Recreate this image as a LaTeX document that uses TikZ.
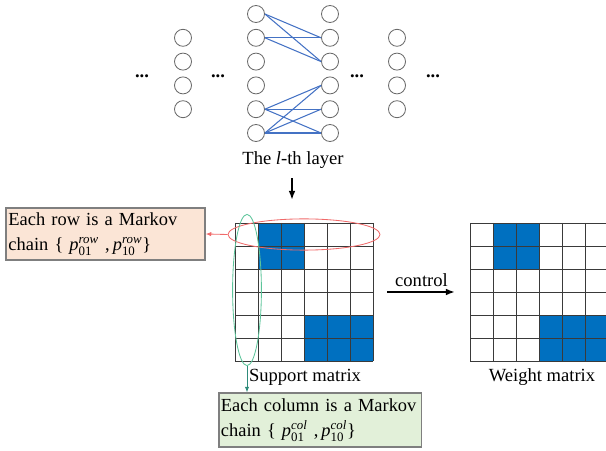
\documentclass[tikz,border=0pt]{standalone}
\usepackage{amsmath}
\usepackage{fontspec}
\setmainfont{Liberation Serif}
\usetikzlibrary{arrows.meta,shapes.geometric}
\definecolor{NeuronGray}{HTML}{6A6A6A}
\definecolor{LinkBlue}{HTML}{4472C4}
\definecolor{CellBlue}{HTML}{0070C0}
\definecolor{GridGray}{HTML}{3A3A3A}
\definecolor{BoxGray}{HTML}{7F7F7F}
\definecolor{RowFill}{HTML}{FBE5D6}
\definecolor{ColFill}{HTML}{E2F0D9}
\definecolor{RowRed}{HTML}{F06A6A}
\definecolor{ColGreen}{HTML}{5CC49A}
\definecolor{ColArrow}{HTML}{2E8B7A}
\newcommand{\MkText}{\fontsize{13.1}{17.6}\selectfont}
\newcommand{\LblText}{\fontsize{13.2}{15}\selectfont}
\newcommand{\MkProb}[2]{$\textit{p}_{\text{#1}}^{\textit{#2}}$}
% 6x6 block pattern, #1/#2 = top-left corner
\newcommand{\MatGrid}[2]{%
  \begin{scope}[shift={(#1,#2)}]
    \foreach \c/\r in {1/0,2/0,1/1,2/1,3/4,4/4,5/4,3/5,4/5,5/5}
      \fill[CellBlue] (\c*23,\r*23) rectangle ++(23,23);
    \foreach \k in {0,...,6} {
      \draw[gridline] (\k*23,0) -- (\k*23,138);
      \draw[gridline] (0,\k*23) -- (138,\k*23);
    }
  \end{scope}}
\tikzset{
  neuron/.style={circle, draw=NeuronGray, line width=0.6pt, minimum size=0.425cm, inner sep=0pt},
  link/.style={draw=LinkBlue, line width=0.75pt},
  dotsnode/.style={font=\LblText\bfseries, inner sep=0pt},
  gridline/.style={draw=GridGray, line width=0.55pt},
  matbox/.style={rectangle, minimum width=3.45cm, minimum height=3.45cm, inner sep=0pt},
  plainlabel/.style={font=\LblText, inner sep=1pt},
  notebox/.style={draw=BoxGray, line width=0.9pt, align=left, font=\MkText, inner sep=1.5pt},
  rowbox/.style={notebox, fill=RowFill, minimum width=4.975cm, minimum height=1.3cm, text width=4.85cm},
  colbox/.style={notebox, fill=ColFill, minimum width=5.0cm, minimum height=1.35cm, text width=4.95cm},
  mainarrow/.style={-{Latex[length=2.2mm,width=1.7mm]}, line width=1.1pt},
  rowarrow/.style={-{Latex[length=1.4mm,width=1.1mm]}, draw=RowRed, line width=0.6pt},
  colarrow/.style={-{Latex[length=1.4mm,width=1.1mm]}, draw=ColArrow, line width=0.6pt}
}
\begin{document}
\begin{tikzpicture}[x=0.025cm,y=-0.025cm]
\path[use as bounding box] (0,0) rectangle (606,451);

% network layers
\foreach \i in {1,...,4} {
  \node[neuron] (a\i) at (183,{37.8+23.8*(\i-1)}) {};
  \node[neuron] (d\i) at (397,{37.8+23.8*(\i-1)}) {};
}
\foreach \i in {1,...,6} {
  \node[neuron] (b\i) at (256,{14+23.8*(\i-1)}) {};
  \node[neuron] (c\i) at (330,{14+23.8*(\i-1)}) {};
}
\foreach \s/\t in {1/2,1/3,2/2,2/3,5/4,5/5,5/6,6/4,6/5,6/6}
  \draw[link] (b\s.east) -- (c\t.west);

\node[dotsnode] (dots1) at (142,76) {...};
\node[dotsnode] (dots2) at (218,76) {...};
\node[dotsnode] (dots3) at (357,76) {...};
\node[dotsnode] (dots4) at (433,76) {...};

\node[plainlabel] (layer) at (293,160) {The \textit{l}-th layer};

% matrices
\MatGrid{235}{223}
\MatGrid{470}{223}
\node[matbox] (support) at (304,292) {};
\node[matbox] (weight) at (539,292) {};
\node[plainlabel] (supportlbl) at (305,377) {Support matrix};
\node[plainlabel] (weightlbl) at (542,377) {Weight matrix};

\coordinate (layarr) at ([xshift=-0.025cm,yshift=-0.2cm]layer.south);
\draw[mainarrow, shorten >=23*0.025cm] (layarr) -- (layarr |- support.north);
\draw[mainarrow, shorten <=14*0.025cm, shorten >=15*0.025cm] (support.east) -- node[plainlabel, above=2pt] {control} (weight.west);

% Markov chain notes
\node[draw=RowRed, line width=0.6pt, ellipse, minimum width=3.8cm, minimum height=0.78cm] (rowring) at (304,234.5) {};
\node[draw=ColGreen, line width=0.6pt, ellipse, minimum width=0.72cm, minimum height=3.78cm] (colring) at (247,290) {};

\node[rowbox] (rownote) at (105.5,234) {Each row is a Markov\\chain \{ \MkProb{01}{row} ,\,\MkProb{10}{row}\}};
\node[colbox] (colnote) at (320,420) {Each column is a Markov\\chain \{ \MkProb{01}{col} ,\,\MkProb{10}{col}\}};

\draw[rowarrow] (rowring.west) -- (rownote.east);
\draw[colarrow] (colring.south) -- (colring.south |- colnote.north);

\end{tikzpicture}
\end{document}
